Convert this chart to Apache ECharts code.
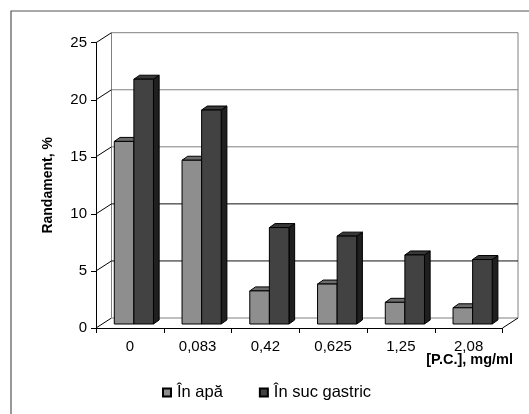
<!DOCTYPE html>
<html>
<head>
<meta charset="utf-8">
<script src="https://cdn.jsdelivr.net/npm/echarts@6/dist/echarts.min.js"></script>
<style>
  html, body { margin: 0; padding: 0; background: #fff; }
  #chart { width: 529px; height: 414px; }
</style>
</head>
<body>
<div id="chart"></div>
<script>
// Concentration categories and yields (%)
const categories = ['0', '0,083', '0,42', '0,625', '1,25', '2,08'];
const seriesNames = ['În apă', 'În suc gastric'];
const inWater = [16.0, 14.35, 2.9, 3.5, 1.9, 1.42];
const inGastric = [21.45, 18.75, 8.45, 7.7, 6.05, 5.65];
const yTicks = [0, 5, 10, 15, 20, 25];

const FONT = "'Liberation Sans', Arial, sans-serif";

// Depth of the 3D box (back wall offset) and of each column
const WALL_DX = 15.5, WALL_DY = -10;
const BAR_SHIFT_X = 4, BAR_SHIFT_Y = -4;
const BAR_DX = 5.7, BAR_DY = -4;
const BAR_FRAC = 0.289;

const palette = [
  { front: '#8e8e8e', top: '#6c6c6c', side: '#5a5a5a' },
  { front: '#424242', top: '#383838', side: '#1f1f1f' }
];

function wallItem(params, api) {
  const cs = params.coordSys;
  const L = cs.x, R = cs.x + cs.width;
  const v = api.value(0);
  const y = api.coord([0, v])[1];
  const dark = (v === 5 || v === 10);
  const children = [
    { type: 'line', shape: { x1: L, y1: y, x2: L + WALL_DX, y2: y + WALL_DY },
      style: { stroke: '#000', lineWidth: 1 } },
    { type: 'line', shape: { x1: L + WALL_DX, y1: y + WALL_DY, x2: R + WALL_DX, y2: y + WALL_DY },
      style: { stroke: dark ? '#111' : '#808080', lineWidth: 1 } }
  ];
  if (v === 0) {
    const yTop = api.coord([0, yTicks[yTicks.length - 1]])[1];
    children.push(
      { type: 'line', shape: { x1: R, y1: y, x2: R + WALL_DX, y2: y + WALL_DY },
        style: { stroke: '#000', lineWidth: 1 } },
      { type: 'line', shape: { x1: L + WALL_DX, y1: y + WALL_DY, x2: L + WALL_DX, y2: yTop + WALL_DY },
        style: { stroke: '#808080', lineWidth: 1 } },
      { type: 'line', shape: { x1: R + WALL_DX, y1: y + WALL_DY, x2: R + WALL_DX, y2: yTop + WALL_DY },
        style: { stroke: '#808080', lineWidth: 1 } }
    );
  }
  return { type: 'group', children: children };
}

function barRenderer(si) {
  return function (params, api) {
    const idx = api.value(0);
    const val = api.value(1);
    const base = api.coord([idx, 0]);
    const top = api.coord([idx, val]);
    const band = api.size([1, 0])[0];
    const w = band * BAR_FRAC;
    const x0 = base[0] - w + BAR_SHIFT_X + si * w;
    const x1 = x0 + w;
    const by = base[1] + BAR_SHIFT_Y;
    const ty = top[1] + BAR_SHIFT_Y;
    const c = palette[si];
    const edge = { stroke: '#000', lineWidth: 1, lineJoin: 'round' };
    return {
      type: 'group',
      children: [
        { type: 'polygon',
          shape: { points: [[x1, ty], [x1 + BAR_DX, ty + BAR_DY], [x1 + BAR_DX, by + BAR_DY], [x1, by]] },
          style: Object.assign({ fill: c.side }, edge) },
        { type: 'polygon',
          shape: { points: [[x0, ty], [x1, ty], [x1 + BAR_DX, ty + BAR_DY], [x0 + BAR_DX, ty + BAR_DY]] },
          style: Object.assign({ fill: c.top }, edge) },
        { type: 'rect',
          shape: { x: x0, y: ty, width: w, height: by - ty },
          style: Object.assign({ fill: c.front }, edge) }
      ]
    };
  };
}

const chart = echarts.init(document.getElementById('chart'), null, { renderer: 'canvas' });

chart.setOption({
  animation: false,
  backgroundColor: '#fff',
  textStyle: { fontFamily: FONT },
  grid: { left: 96, right: 26.5, top: 42.7, bottom: 86, containLabel: false },
  xAxis: {
    type: 'category',
    data: categories,
    boundaryGap: true,
    axisLine: { show: true, lineStyle: { color: '#000', width: 1 } },
    axisTick: { show: true, length: 5, inside: false, lineStyle: { color: '#000' } },
    axisLabel: { color: '#000', fontSize: 15, fontFamily: FONT, margin: 11, interval: 0 },
    splitLine: { show: false }
  },
  yAxis: {
    type: 'value',
    min: 0, max: 25, interval: 5,
    name: 'Randament, %',
    nameLocation: 'middle',
    nameRotate: 90,
    nameGap: 41,
    nameTextStyle: { color: '#000', fontSize: 14, fontWeight: 'bold', fontFamily: FONT },
    axisLine: { show: true, lineStyle: { color: '#000', width: 1 } },
    axisTick: { show: true, length: 5, inside: false, lineStyle: { color: '#000' } },
    axisLabel: { color: '#000', fontSize: 15, fontFamily: FONT, margin: 9 },
    splitLine: { show: false }
  },
  legend: {
    data: seriesNames,
    left: 157, top: 379,
    icon: 'rect',
    itemWidth: 8, itemHeight: 8,
    itemGap: 36,
    textStyle: { color: '#000', fontSize: 16.5, fontFamily: FONT, padding: [0, 0, 0, 1] }
  },
  graphic: [
    { type: 'rect', silent: true, shape: { x: 11, y: 11, width: 700, height: 600 },
      style: { fill: null, stroke: '#555', lineWidth: 1.2 } },
    { type: 'text', silent: true, right: 16, top: 352,
      style: { text: '[P.C.], mg/ml', fill: '#000', font: "bold 14.5px " + FONT } }
  ],
  series: [
    {
      type: 'custom', name: '_walls', silent: true, clip: false, z: 1,
      data: yTicks.map(v => [v]),
      encode: { y: 0 },
      renderItem: wallItem
    },
    {
      type: 'custom', name: seriesNames[0], clip: false, z: 3,
      itemStyle: { color: palette[0].front, borderColor: '#000', borderWidth: 1 },
      data: inWater.map((v, i) => [i, v]),
      encode: { x: 0, y: 1 },
      renderItem: barRenderer(0)
    },
    {
      type: 'custom', name: seriesNames[1], clip: false, z: 3,
      itemStyle: { color: palette[1].front, borderColor: '#000', borderWidth: 1 },
      data: inGastric.map((v, i) => [i, v]),
      encode: { x: 0, y: 1 },
      renderItem: barRenderer(1)
    }
  ]
});
</script>
</body>
</html>
